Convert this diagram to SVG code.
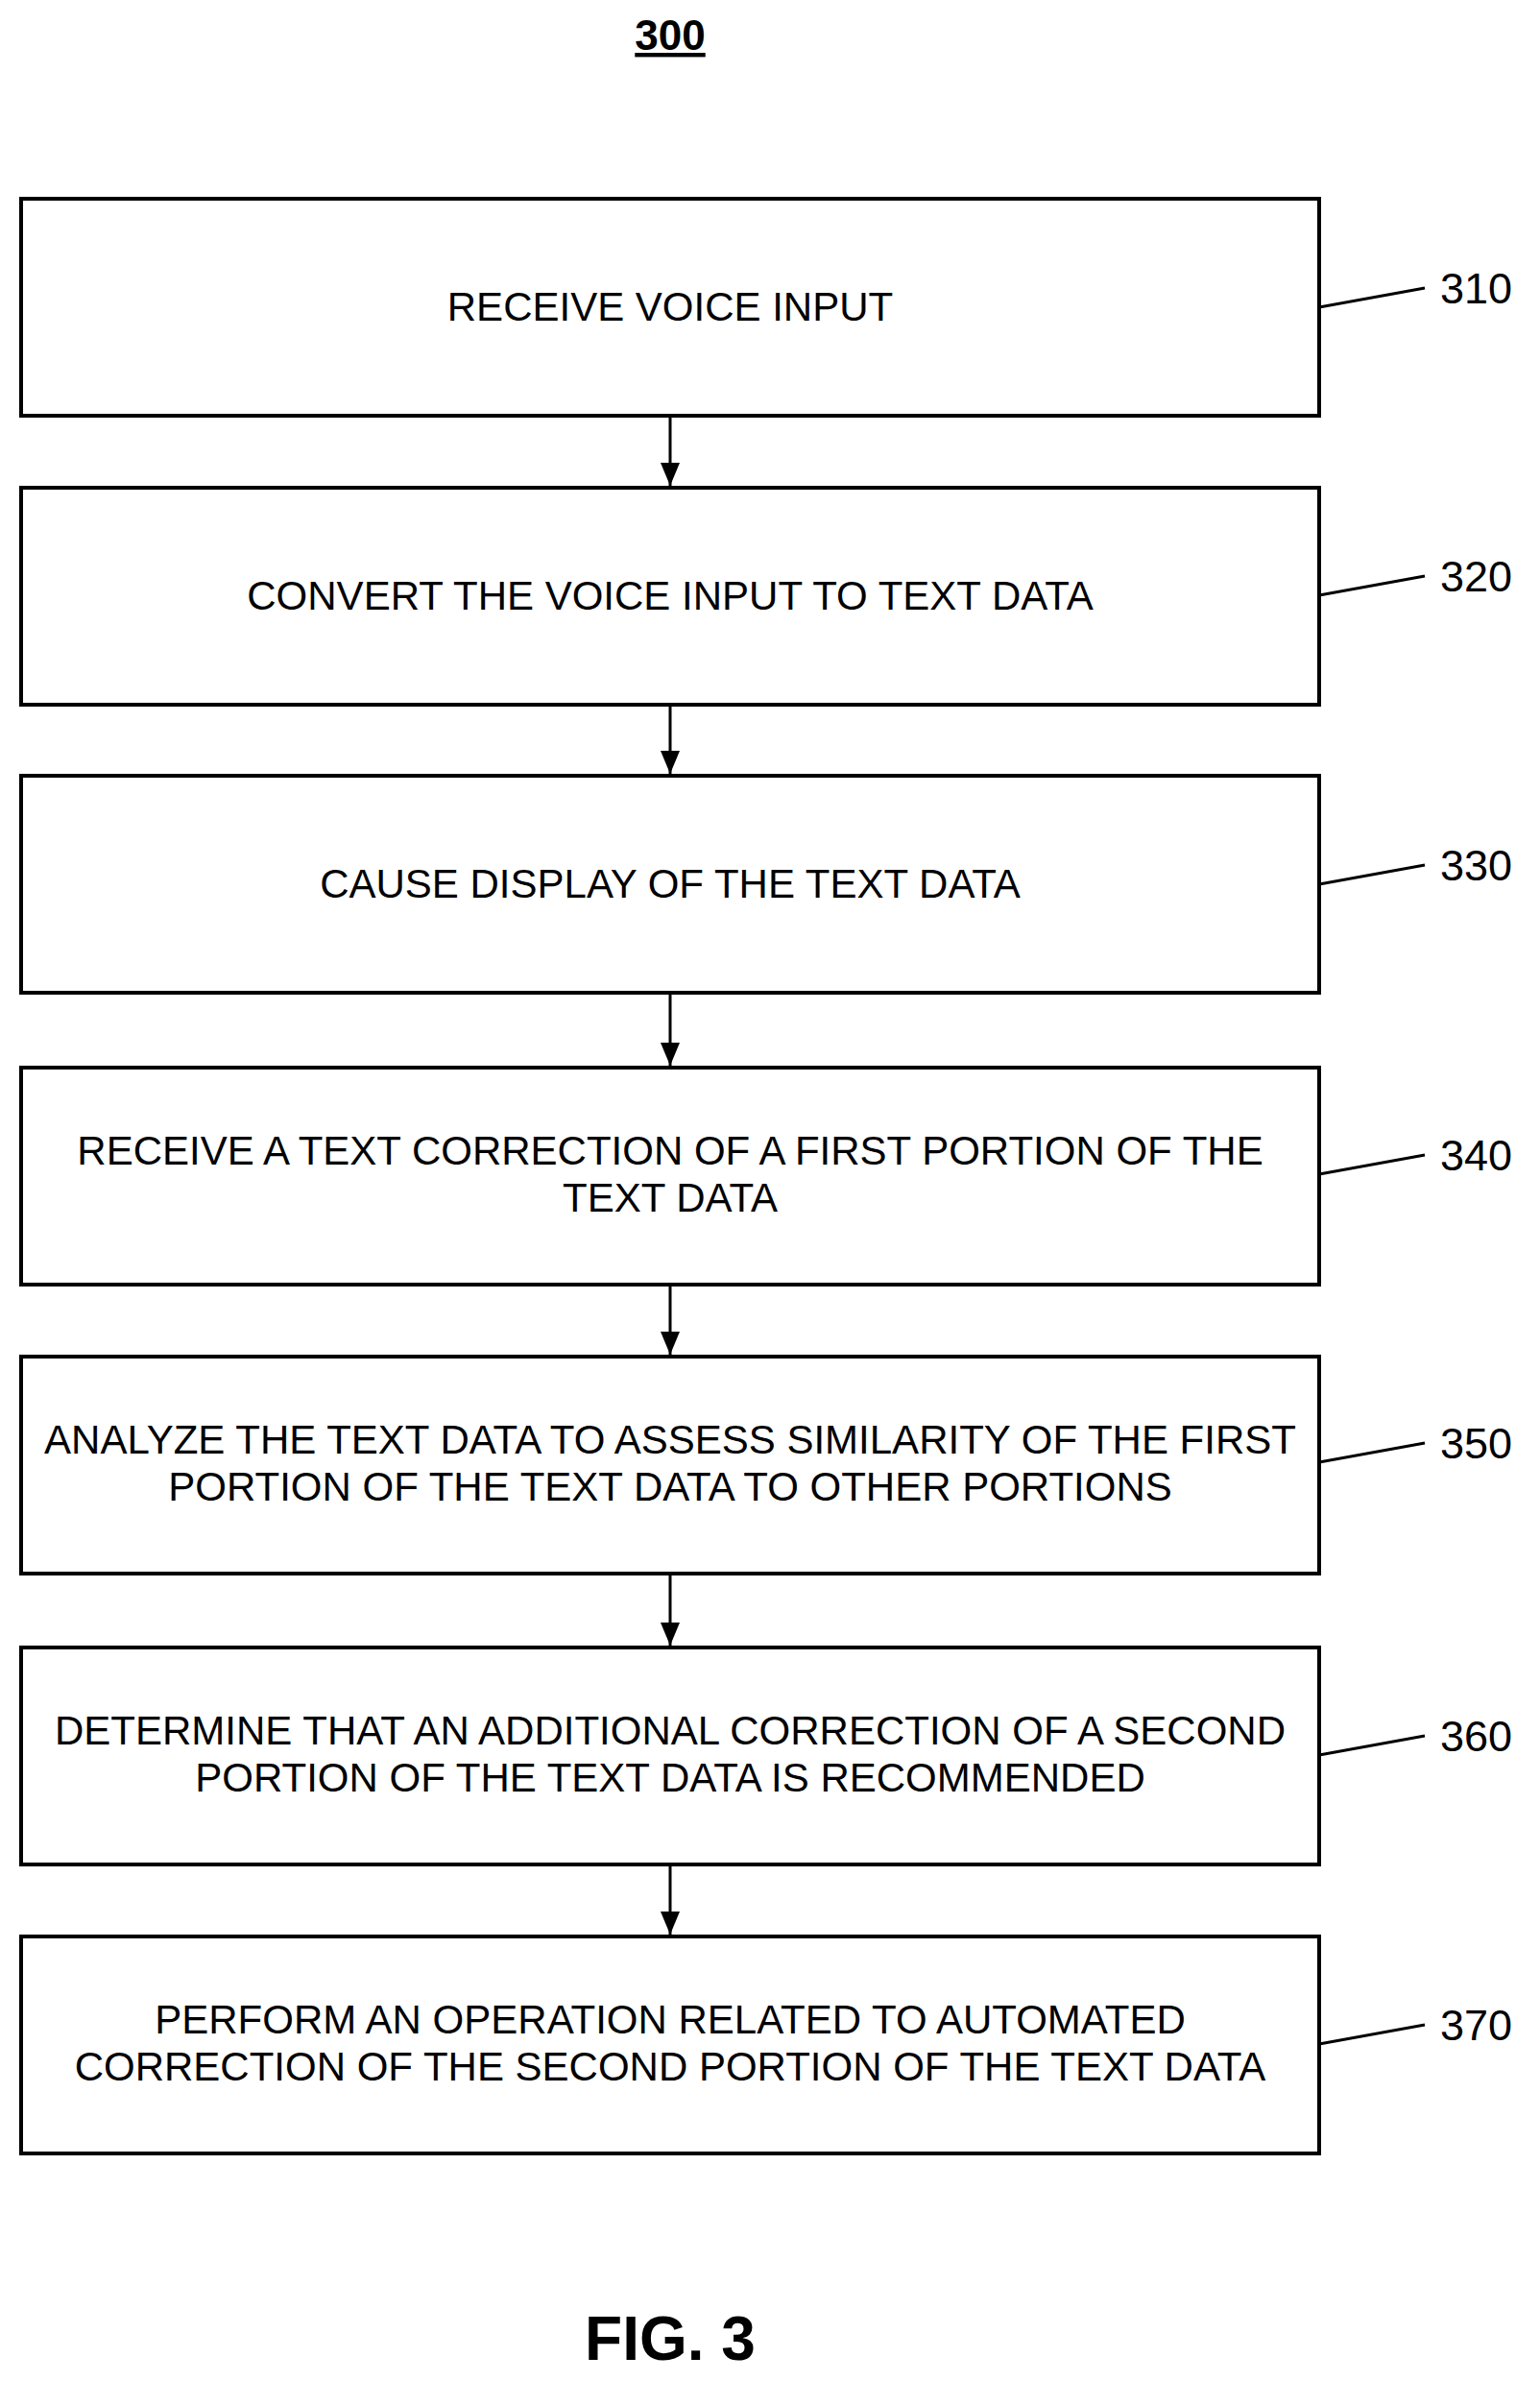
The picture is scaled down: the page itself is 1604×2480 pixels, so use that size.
<svg xmlns="http://www.w3.org/2000/svg" width="1604" height="2480" viewBox="0 0 1604 2480">
<style>
.b{fill:#fff;stroke:#000;stroke-width:4}
.t{font-family:"Liberation Sans",Arial,sans-serif;font-size:42px;text-anchor:middle;fill:#000}
.n{font-family:"Liberation Sans",Arial,sans-serif;font-size:45px;fill:#000}
.l{stroke:#000;stroke-width:3;fill:none}
</style>
<defs>
<marker id="ah" viewBox="0 0 24 20" refX="24" refY="10" markerWidth="24" markerHeight="20" orient="auto" markerUnits="userSpaceOnUse"><path d="M0,0L24,10L0,20z" fill="#000"/></marker></defs>
<text x="698" y="52" text-anchor="middle" font-family="Liberation Sans,Arial,sans-serif" font-weight="bold" font-size="44" text-decoration="underline">300</text>
<g id="n310"><rect class="b" x="22" y="207" width="1352" height="226"/><text class="t" x="698" y="334">RECEIVE VOICE INPUT</text><path class="l" d="M1374,320L1484,300"/><text class="n" x="1500" y="316">310</text></g>
<g id="n320"><rect class="b" x="22" y="508" width="1352" height="226"/><text class="t" x="698" y="635">CONVERT THE VOICE INPUT TO TEXT DATA</text><path class="l" d="M1374,620L1484,600"/><text class="n" x="1500" y="616">320</text></g>
<g id="n330"><rect class="b" x="22" y="808" width="1352" height="226"/><text class="t" x="698" y="935">CAUSE DISPLAY OF THE TEXT DATA</text><path class="l" d="M1374,921L1484,901"/><text class="n" x="1500" y="917">330</text></g>
<g id="n340"><rect class="b" x="22" y="1112" width="1352" height="226"/><text class="t" x="698" y="1213">RECEIVE A TEXT CORRECTION OF A FIRST PORTION OF THE</text><text class="t" x="698" y="1262">TEXT DATA</text><path class="l" d="M1374,1223L1484,1203"/><text class="n" x="1500" y="1219">340</text></g>
<g id="n350"><rect class="b" x="22" y="1413" width="1352" height="226"/><text class="t" x="698" y="1514">ANALYZE THE TEXT DATA TO ASSESS SIMILARITY OF THE FIRST</text><text class="t" x="698" y="1563">PORTION OF THE TEXT DATA TO OTHER PORTIONS</text><path class="l" d="M1374,1523L1484,1503"/><text class="n" x="1500" y="1519">350</text></g>
<g id="n360"><rect class="b" x="22" y="1716" width="1352" height="226"/><text class="t" x="698" y="1817">DETERMINE THAT AN ADDITIONAL CORRECTION OF A SECOND</text><text class="t" x="698" y="1866">PORTION OF THE TEXT DATA IS RECOMMENDED</text><path class="l" d="M1374,1828L1484,1808"/><text class="n" x="1500" y="1824">360</text></g>
<g id="n370"><rect class="b" x="22" y="2017" width="1352" height="226"/><text class="t" x="698" y="2118">PERFORM AN OPERATION RELATED TO AUTOMATED</text><text class="t" x="698" y="2167">CORRECTION OF THE SECOND PORTION OF THE TEXT DATA</text><path class="l" d="M1374,2129L1484,2109"/><text class="n" x="1500" y="2125">370</text></g>
<g id="connectors">
<path class="l" marker-end="url(#ah)" d="M698,433V506"/>
<path class="l" marker-end="url(#ah)" d="M698,734V806"/>
<path class="l" marker-end="url(#ah)" d="M698,1034V1110"/>
<path class="l" marker-end="url(#ah)" d="M698,1338V1411"/>
<path class="l" marker-end="url(#ah)" d="M698,1639V1714"/>
<path class="l" marker-end="url(#ah)" d="M698,1942V2015"/>
</g>
<text x="698" y="2458" text-anchor="middle" font-family="Liberation Sans,Arial,sans-serif" font-weight="bold" font-size="64">FIG. 3</text>
</svg>
